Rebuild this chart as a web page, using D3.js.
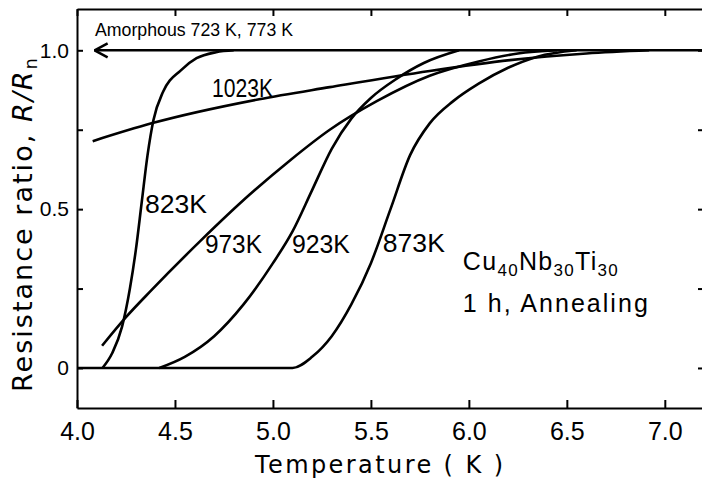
<!DOCTYPE html>
<html>
<head>
<meta charset="utf-8">
<script src="https://cdn.jsdelivr.net/npm/d3@7"></script>
<style>
  body { margin: 0; background: #fff; }
  svg { display: block; }
</style>
</head>
<body>
<svg id="chart"></svg>
<script>
// Tick values and labels
const xTicks = [4.0, 4.5, 5.0, 5.5, 6.0, 6.5, 7.0];
const xTickLabels = ["4.0", "4.5", "5.0", "5.5", "6.0", "6.5", "7.0"];
const yTicks = [0, 0.25, 0.5, 0.75, 1.0];
const yTickLabels = ["0", "", "0.5", "", "1.0"];

// Curves: temperature (K) and R/Rn
const curveNames = ["Amorphous", "823K", "873K", "923K", "973K", "1023K"];

const tAmorphous = [4.09, 7.2];
const rAmorphous = [1.0, 1.0];

const t823 = [4.13, 4.18, 4.23, 4.27, 4.30, 4.33, 4.36, 4.39, 4.44, 4.53, 4.61, 4.71, 4.80];
const r823 = [0, 0.047, 0.13, 0.25, 0.37, 0.52, 0.67, 0.78, 0.87, 0.937, 0.975, 0.994, 1.0];

const t873 = [4.0, 5.10, 5.20, 5.30, 5.40, 5.50, 5.60, 5.70, 5.80, 5.92, 6.05, 6.20, 6.35, 6.55];
const r873 = [0, 0, 0.035, 0.10, 0.20, 0.33, 0.50, 0.67, 0.77, 0.84, 0.895, 0.945, 0.98, 1.0];

const t923 = [4.42, 4.55, 4.70, 4.85, 5.00, 5.10, 5.20, 5.30, 5.40, 5.50, 5.63, 5.77, 5.95];
const r923 = [0, 0.035, 0.10, 0.20, 0.33, 0.43, 0.56, 0.69, 0.785, 0.85, 0.91, 0.96, 1.0];

const t973 = [4.128, 4.25, 4.38, 4.63, 4.88, 5.09, 5.29, 5.53, 5.80, 6.05, 6.25, 6.45];
const r973 = [0.07, 0.16, 0.245, 0.40, 0.545, 0.655, 0.75, 0.84, 0.92, 0.965, 0.99, 1.0];

const t1023 = [4.08, 4.38, 4.93, 5.29, 5.80, 6.21, 6.60, 6.92];
const r1023 = [0.714, 0.77, 0.846, 0.884, 0.935, 0.969, 0.99, 1.0];

(function () {
    const width = 702;
    const height = 482;
    const plot = { left: 77, right: 704, top: 9, bottom: 408 };

    const svg = d3.select("#chart")
        .attr("width", width)
        .attr("height", height);

    const x = d3.scaleLinear().domain([4.0, 7.2]).range([plot.left, plot.right]);
    const y = d3.scaleLinear().domain([-0.126, 1.13]).range([plot.bottom, plot.top]);

    const series = [
        [tAmorphous, rAmorphous],
        [t823, r823],
        [t873, r873],
        [t923, r923],
        [t973, r973],
        [t1023, r1023]
    ].map((pair, i) => ({
        name: curveNames[i],
        values: pair[0].map((t, j) => ({ t: t, r: pair[1][j] }))
    }));

    // Axes, all ticks pointing inward
    const bottomAxis = svg.append("g")
        .attr("transform", `translate(0, ${plot.bottom})`)
        .call(d3.axisBottom(x)
            .tickValues(xTicks)
            .tickFormat((d, i) => xTickLabels[i])
            .tickSizeInner(-8)
            .tickSizeOuter(0)
            .tickPadding(14));

    svg.append("g")
        .attr("transform", `translate(0, ${plot.top})`)
        .call(d3.axisTop(x)
            .tickValues(xTicks)
            .tickFormat("")
            .tickSizeInner(-7)
            .tickSizeOuter(0));

    const leftAxis = svg.append("g")
        .attr("transform", `translate(${plot.left}, 0)`)
        .call(d3.axisLeft(y)
            .tickValues(yTicks)
            .tickFormat((d, i) => yTickLabels[i])
            .tickSizeInner(-6)
            .tickSizeOuter(0)
            .tickPadding(8));

    svg.append("g")
        .attr("transform", `translate(${plot.right}, 0)`)
        .call(d3.axisRight(y)
            .tickValues(yTicks)
            .tickFormat("")
            .tickSizeInner(-6)
            .tickSizeOuter(0));

    svg.selectAll(".domain, .tick line")
        .attr("stroke", "#000")
        .attr("stroke-width", 2);

    bottomAxis.selectAll("text")
        .attr("font-family", "Liberation Sans, Arial, sans-serif")
        .attr("font-size", "25px")
        .attr("fill", "#000");

    leftAxis.selectAll("text")
        .attr("font-family", "Liberation Sans, Arial, sans-serif")
        .attr("font-size", "21px")
        .attr("fill", "#000");

    // Open arrow head for the amorphous line
    svg.append("defs").append("marker")
        .attr("id", "arrow")
        .attr("markerUnits", "userSpaceOnUse")
        .attr("markerWidth", 20)
        .attr("markerHeight", 20)
        .attr("refX", 1)
        .attr("refY", 8)
        .attr("orient", "auto")
        .append("path")
        .attr("d", "M14,1 L1,8 L14,15")
        .attr("fill", "none")
        .attr("stroke", "#000")
        .attr("stroke-width", 2.5);

    const line = d3.line()
        .x(d => x(d.t))
        .y(d => y(d.r))
        .curve(d3.curveMonotoneX);

    svg.append("g")
        .selectAll("path")
        .data(series)
        .join("path")
        .attr("d", d => line(d.values))
        .attr("fill", "none")
        .attr("stroke", "#000")
        .attr("stroke-width", 2.6)
        .attr("stroke-linejoin", "round")
        .attr("marker-start", d => d.name === "Amorphous" ? "url(#arrow)" : null);

    // Curve labels (placed in data units)
    const labelFont = "Liberation Sans, Arial, sans-serif";
    const curveLabels = [
        { text: "823K", t: 4.347, r: 0.487, w: 62 },
        { text: "973K", t: 4.653, r: 0.362, w: 57 },
        { text: "923K", t: 5.097, r: 0.362, w: 58 },
        { text: "873K", t: 5.561, r: 0.365, w: 62 },
        { text: "1023K", t: 4.689, r: 0.852, w: 61 }
    ];

    svg.append("g")
        .selectAll("text")
        .data(curveLabels)
        .join("text")
        .attr("x", d => x(d.t))
        .attr("y", d => y(d.r))
        .attr("font-family", labelFont)
        .attr("font-size", "26px")
        .attr("textLength", d => d.w)
        .attr("lengthAdjust", "spacingAndGlyphs")
        .text(d => d.text);

    svg.append("text")
        .attr("x", x(4.092))
        .attr("y", y(1.044))
        .attr("font-family", labelFont)
        .attr("font-size", "18px")
        .attr("textLength", 198)
        .attr("lengthAdjust", "spacingAndGlyphs")
        .text("Amorphous 723 K, 773 K");

    // Sample annotation
    const alloy = svg.append("text")
        .attr("x", x(5.969))
        .attr("y", y(0.308))
        .attr("font-family", labelFont)
        .attr("font-size", "25px")
        .attr("textLength", 155)
        .attr("lengthAdjust", "spacing");
    [["Cu", false], ["40", true], ["Nb", false], ["30", true], ["Ti", false], ["30", true]].forEach(p => {
        alloy.append("tspan")
            .attr("font-size", p[1] ? "17px" : "25px")
            .attr("dy", p[1] ? 6 : -6)
            .text(p[0]);
    });
    alloy.select("tspan").attr("dy", 0);

    svg.append("text")
        .attr("x", x(5.969))
        .attr("y", y(0.176))
        .attr("font-family", labelFont)
        .attr("font-size", "25px")
        .attr("textLength", 185)
        .attr("lengthAdjust", "spacing")
        .text("1 h, Annealing");

    // Axis titles
    svg.append("text")
        .attr("x", 255)
        .attr("y", 473)
        .attr("font-family", "DejaVu Sans, sans-serif")
        .attr("font-size", "24px")
        .attr("textLength", 248)
        .attr("lengthAdjust", "spacing")
        .text("Temperature ( K )");

    const yTitle = svg.append("text")
        .attr("transform", "translate(32, 392) rotate(-90)")
        .attr("font-family", "DejaVu Sans, sans-serif")
        .attr("font-size", "27px")
        .attr("textLength", 334)
        .attr("lengthAdjust", "spacing");
    yTitle.append("tspan").text("Resistance ratio,  ");
    yTitle.append("tspan").attr("font-style", "italic").text("R/R");
    yTitle.append("tspan").attr("font-size", "18px").attr("dy", 5).text("n");
})();
</script>
</body>
</html>
